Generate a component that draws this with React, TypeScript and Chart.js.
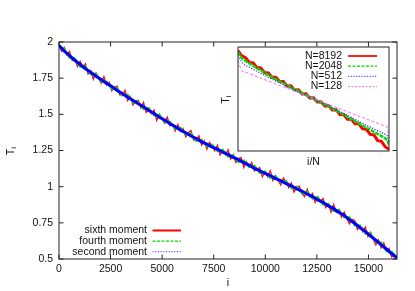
import React, { useEffect, useRef } from "react";
import { Chart, registerables } from "chart.js";
Chart.register(...registerables);

const FONT = '"Liberation Sans", Arial, Helvetica, sans-serif';

// ---- main chart data ----
const I_FINE = [0,128,256,384,512,640,768,896,1024,1152,1280,1408,1536,1664,1792,1920,2048,2176,2304,2432,2560,2688,2816,2944,3072,3200,3328,3456,3584,3712,3840,3968,4096,4224,4352,4480,4608,4736,4864,4992,5120,5248,5376,5504,5632,5760,5888,6016,6144,6272,6400,6528,6656,6784,6912,7040,7168,7296,7424,7552,7680,7808,7936,8064,8192,8320,8448,8576,8704,8832,8960,9088,9216,9344,9472,9600,9728,9856,9984,10112,10240,10368,10496,10624,10752,10880,11008,11136,11264,11392,11520,11648,11776,11904,12032,12160,12288,12416,12544,12672,12800,12928,13056,13184,13312,13440,13568,13696,13824,13952,14080,14208,14336,14464,14592,14720,14848,14976,15104,15232,15360,15488,15616,15744,15872,16000,16128,16256,16384];
const SIXTH_MOMENT = [1.983,1.936,1.963,1.911,1.935,1.872,1.880,1.830,1.867,1.823,1.849,1.778,1.802,1.742,1.785,1.747,1.715,1.761,1.704,1.722,1.662,1.687,1.695,1.635,1.633,1.666,1.595,1.623,1.564,1.591,1.597,1.545,1.582,1.512,1.538,1.504,1.530,1.458,1.500,1.466,1.438,1.480,1.422,1.434,1.385,1.430,1.383,1.402,1.344,1.374,1.387,1.322,1.324,1.352,1.287,1.317,1.258,1.306,1.280,1.248,1.286,1.219,1.252,1.221,1.255,1.191,1.222,1.167,1.194,1.201,1.132,1.172,1.136,1.168,1.109,1.124,1.132,1.069,1.103,1.069,1.111,1.042,1.076,1.041,1.011,1.060,1.035,0.992,1.025,0.963,0.995,1.003,0.954,0.931,0.982,0.930,0.953,0.891,0.926,0.896,0.919,0.855,0.879,0.823,0.877,0.823,0.842,0.790,0.825,0.778,0.743,0.774,0.766,0.704,0.730,0.689,0.720,0.655,0.685,0.635,0.598,0.632,0.577,0.611,0.556,0.573,0.513,0.532,0.507];
const I_GRID = [0,256,512,768,1024,1280,1536,1792,2048,2304,2560,2816,3072,3328,3584,3840,4096,4352,4608,4864,5120,5376,5632,5888,6144,6400,6656,6912,7168,7424,7680,7936,8192,8448,8704,8960,9216,9472,9728,9984,10240,10496,10752,11008,11264,11520,11776,12032,12288,12544,12800,13056,13312,13568,13824,14080,14336,14592,14848,15104,15360,15616,15872,16128,16384];
const FOURTH_MOMENT = [1.971,1.953,1.891,1.887,1.829,1.830,1.778,1.781,1.726,1.727,1.676,1.682,1.630,1.636,1.582,1.587,1.536,1.543,1.493,1.498,1.445,1.450,1.399,1.408,1.359,1.368,1.317,1.324,1.277,1.290,1.246,1.256,1.207,1.217,1.170,1.182,1.135,1.145,1.095,1.105,1.060,1.073,1.029,1.039,0.990,1.000,0.953,0.965,0.918,0.927,0.876,0.881,0.831,0.839,0.788,0.789,0.731,0.731,0.674,0.675,0.617,0.615,0.553,0.550,0.507];
const SECOND_MOMENT = [1.976,1.936,1.906,1.873,1.846,1.815,1.791,1.763,1.741,1.714,1.693,1.665,1.644,1.618,1.598,1.573,1.553,1.526,1.506,1.480,1.461,1.435,1.416,1.391,1.373,1.350,1.333,1.310,1.294,1.273,1.259,1.238,1.223,1.202,1.187,1.165,1.149,1.127,1.111,1.091,1.077,1.056,1.042,1.021,1.006,0.985,0.970,0.948,0.932,0.909,0.892,0.867,0.848,0.822,0.801,0.771,0.747,0.716,0.691,0.658,0.631,0.597,0.569,0.536,0.508];
const X_TICKS = [0,2500,5000,7500,10000,12500,15000];
const Y_TICKS = [0.5,0.75,1,1.25,1.5,1.75,2];
const MAIN_LABELS = ["sixth moment","fourth moment","second moment"];

// ---- inset data ----
const INSET_X_8192 = [0,0.025,0.05,0.075,0.1,0.125,0.15,0.175,0.2,0.225,0.25,0.275,0.3,0.325,0.35,0.375,0.4,0.425,0.45,0.475,0.5,0.525,0.55,0.575,0.6,0.625,0.65,0.675,0.7,0.725,0.75,0.775,0.8,0.825,0.85,0.875,0.9,0.925,0.95,0.975,1];
const INSET_T_8192 = [1.995,1.915,1.885,1.812,1.805,1.735,1.728,1.658,1.652,1.585,1.585,1.518,1.518,1.450,1.452,1.388,1.392,1.328,1.330,1.266,1.268,1.205,1.206,1.142,1.146,1.080,1.083,1.012,1.012,0.940,0.942,0.870,0.868,0.790,0.786,0.705,0.698,0.610,0.598,0.515,0.476];
const INSET_X_2048 = [0,0.025,0.05,0.1,0.15,0.2,0.25,0.3,0.35,0.4,0.45,0.5,0.55,0.6,0.65,0.7,0.75,0.8,0.85,0.9,0.95,0.975,0.99,1];
const INSET_T_2048 = [1.969,1.88,1.835,1.762,1.69,1.617,1.552,1.492,1.428,1.372,1.31,1.254,1.192,1.137,1.072,1.012,0.94,0.872,0.81,0.745,0.68,0.645,0.614,0.537];
const INSET_X_512 = [0,0.033,0.1,0.2,0.3,0.4,0.5,0.6,0.7,0.8,0.9,0.99,1];
const INSET_T_512 = [1.918,1.79,1.707,1.585,1.47,1.36,1.254,1.145,1.03,0.905,0.79,0.691,0.588];
const INSET_X_128 = [0,0.022,0.25,0.5,0.75,0.99,1];
const INSET_T_128 = [1.841,1.688,1.483,1.258,1.033,0.818,0.639];
const INSET_LABELS = ["N=8192","N=2048","N=512","N=128"];

const pts = (xs: number[], ys: number[]) => xs.map((x, k) => ({ x, y: ys[k] }));

function drawSubLabel(ctx: CanvasRenderingContext2D, x: number, y: number) {
  ctx.save();
  ctx.translate(x, y);
  ctx.rotate(-Math.PI / 2);
  ctx.fillStyle = "#111";
  ctx.textBaseline = "middle";
  ctx.textAlign = "left";
  ctx.font = `10.5px ${FONT}`;
  const w = ctx.measureText("T").width;
  const total = w + 3;
  ctx.fillText("T", -total / 2, 0);
  ctx.font = `7.5px ${FONT}`;
  ctx.fillText("i", -total / 2 + w, 3);
  ctx.restore();
}

const mainDecor = {
  id: "mainDecor",
  afterDraw(chart: any) {
    const { ctx, chartArea: a, scales } = chart;
    const xs = scales.x, ys = scales.y;
    ctx.save();
    ctx.strokeStyle = "#222";
    ctx.lineWidth = 1;
    ctx.strokeRect(a.left, a.top, a.right - a.left, a.bottom - a.top);
    ctx.beginPath();
    for (const v of X_TICKS) {
      const px = xs.getPixelForValue(v);
      ctx.moveTo(px, a.bottom); ctx.lineTo(px, a.bottom - 4.5);
      ctx.moveTo(px, a.top); ctx.lineTo(px, a.top + 4.5);
    }
    for (const v of Y_TICKS) {
      const py = ys.getPixelForValue(v);
      ctx.moveTo(a.left, py); ctx.lineTo(a.left + 4.5, py);
      ctx.moveTo(a.right, py); ctx.lineTo(a.right - 4.5, py);
    }
    ctx.stroke();
    const styles = [
      { c: "#ff0000", w: 2, d: [] as number[] },
      { c: "#00dd00", w: 1.2, d: [3, 1.5] },
      { c: "#6060ff", w: 1.2, d: [1.2, 1.5] },
    ];
    ctx.font = `10.5px ${FONT}`;
    ctx.fillStyle = "#111";
    ctx.textAlign = "right";
    ctx.textBaseline = "middle";
    MAIN_LABELS.forEach((t, k) => {
      const y = 230.5 + k * 10.6;
      ctx.fillText(t, 147, y);
      ctx.beginPath();
      ctx.strokeStyle = styles[k].c;
      ctx.lineWidth = styles[k].w;
      ctx.setLineDash(styles[k].d);
      ctx.moveTo(152.5, y); ctx.lineTo(181, y);
      ctx.stroke();
    });
    ctx.setLineDash([]);
    ctx.textAlign = "center";
    ctx.fillText("i", (a.left + a.right) / 2, 283);
    ctx.restore();
    drawSubLabel(ctx, 11, (a.top + a.bottom) / 2);
  },
};

const insetDecor = {
  id: "insetDecor",
  beforeDraw(chart: any) {
    const { ctx, chartArea: a } = chart;
    ctx.save();
    ctx.fillStyle = "#fff";
    ctx.fillRect(a.left, a.top, a.right - a.left, a.bottom - a.top);
    ctx.restore();
  },
  afterDraw(chart: any) {
    const { ctx, chartArea: a } = chart;
    ctx.save();
    ctx.strokeStyle = "#222";
    ctx.lineWidth = 1;
    ctx.strokeRect(a.left, a.top, a.right - a.left, a.bottom - a.top);
    const styles = [
      { c: "#ff2020", w: 2, d: [] as number[] },
      { c: "#00dd00", w: 1.2, d: [3, 1.5] },
      { c: "#5050ff", w: 1.2, d: [1.2, 1.5] },
      { c: "#ff66ff", w: 1, d: [2, 1.5] },
    ];
    ctx.font = `10.5px ${FONT}`;
    ctx.fillStyle = "#111";
    ctx.textAlign = "right";
    ctx.textBaseline = "middle";
    INSET_LABELS.forEach((t, k) => {
      const y = 16 + k * 10.2;
      ctx.fillText(t, 127, y);
      ctx.beginPath();
      ctx.strokeStyle = styles[k].c;
      ctx.lineWidth = styles[k].w;
      ctx.setLineDash(styles[k].d);
      ctx.moveTo(133, y); ctx.lineTo(162, y);
      ctx.stroke();
    });
    ctx.setLineDash([]);
    ctx.textAlign = "center";
    ctx.fillText("i/N", (a.left + a.right) / 2, 122);
    ctx.restore();
    drawSubLabel(ctx, 11, (a.top + a.bottom) / 2);
  },
};

export default function App() {
  const mainRef = useRef<HTMLCanvasElement | null>(null);
  const insetRef = useRef<HTMLCanvasElement | null>(null);

  useEffect(() => {
    document.body.style.margin = "0";
    const tickFont = { family: FONT, size: 10.5 };
    const main = new Chart(mainRef.current as HTMLCanvasElement, {
      type: "line",
      data: {
        datasets: [
          { label: "second moment", data: pts(I_GRID, SECOND_MOMENT), borderColor: "#0000ff", borderWidth: 3, pointRadius: 0, tension: 0 },
          { label: "fourth moment", data: pts(I_GRID, FOURTH_MOMENT), borderColor: "#00dd00", borderWidth: 2, pointRadius: 0, tension: 0 },
          { label: "sixth moment", data: pts(I_FINE, SIXTH_MOMENT), borderColor: "#ff1010", borderWidth: 1.3, pointRadius: 0, tension: 0 },
        ],
      },
      options: {
        responsive: false,
        animation: false,
        layout: { padding: { top: 42, right: 18, left: 0, bottom: 0 } },
        plugins: { legend: { display: false }, tooltip: { enabled: false } },
        scales: {
          x: {
            type: "linear", min: 0, max: 16384,
            afterBuildTicks: (s: any) => { s.ticks = X_TICKS.map((v) => ({ value: v })); },
            afterFit: (s: any) => { s.height = 32; },
            grid: { display: false, drawTicks: false },
            border: { display: false },
            ticks: { padding: 4, color: "#111", font: tickFont, maxRotation: 0, autoSkip: false, callback: (v: any) => String(v) },
          },
          y: {
            type: "linear", min: 0.5, max: 2,
            afterBuildTicks: (s: any) => { s.ticks = Y_TICKS.map((v) => ({ value: v })); },
            afterFit: (s: any) => { s.width = 59; },
            grid: { display: false, drawTicks: false },
            border: { display: false },
            ticks: { padding: 6, color: "#111", font: tickFont, autoSkip: false, callback: (v: any) => String(v) },
          },
        },
      } as any,
      plugins: [mainDecor],
    });

    const inset = new Chart(insetRef.current as HTMLCanvasElement, {
      type: "line",
      data: {
        datasets: [
          { label: "N=128", data: pts(INSET_X_128, INSET_T_128), borderColor: "#ff66ff", borderWidth: 1, borderDash: [3, 2], pointRadius: 0 },
          { label: "N=512", data: pts(INSET_X_512, INSET_T_512), borderColor: "#3030ff", borderWidth: 1.2, borderDash: [1.2, 1.5], pointRadius: 0 },
          { label: "N=2048", data: pts(INSET_X_2048, INSET_T_2048), borderColor: "#00dd00", borderWidth: 2.5, borderDash: [4, 1], pointRadius: 0 },
          { label: "N=8192", data: pts(INSET_X_8192, INSET_T_8192), borderColor: "#ff0000", borderWidth: 3, pointRadius: 0 },
        ],
      },
      options: {
        responsive: false,
        animation: false,
        layout: { padding: { top: 7, right: 6, left: 0, bottom: 0 } },
        plugins: { legend: { display: false }, tooltip: { enabled: false } },
        scales: {
          x: {
            type: "linear", min: 0, max: 1,
            afterFit: (s: any) => { s.height = 19; },
            grid: { display: false, drawTicks: false },
            border: { display: false },
            ticks: { display: false },
          },
          y: {
            type: "linear", min: 0.45, max: 2.05,
            afterFit: (s: any) => { s.width = 23; },
            grid: { display: false, drawTicks: false },
            border: { display: false },
            ticks: { display: false },
          },
        },
      } as any,
      plugins: [insetDecor],
    });

    return () => {
      main.destroy();
      inset.destroy();
    };
  }, []);

  return (
    <div style={{ position: "fixed", left: 0, top: 0, width: 415, height: 291, background: "#fff" }}>
      <canvas ref={mainRef} width={415} height={291} style={{ position: "absolute", left: 0, top: 0, width: 415, height: 291 }} />
      <canvas ref={insetRef} width={180} height={130} style={{ position: "absolute", left: 215, top: 40, width: 180, height: 130 }} />
    </div>
  );
}
